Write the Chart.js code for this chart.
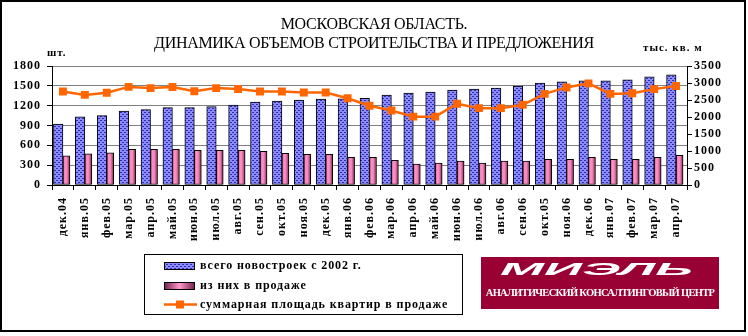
<!DOCTYPE html>
<html lang="ru">
<head>
<meta charset="utf-8">
<title>Московская область</title>
<script src="https://cdn.jsdelivr.net/npm/chart.js@4.4.1/dist/chart.umd.min.js"></script>
<style>
  body { margin: 0; background: #fff; }
  #wrap { position: relative; width: 748px; height: 336px; overflow: hidden;
          font-family: "Liberation Serif", "Times New Roman", serif; color: #000; }
  #frame { position: absolute; left: 0; top: 0; width: 742px; height: 328px; border: 2px solid #000; }
  #canvas { position: absolute; left: 0; top: 0; }
  .title { position: absolute; left: 0; width: 748px; text-align: center;
           font-size: 16px; line-height: 20px; letter-spacing: -0.3px; white-space: nowrap; }
  .unit { position: absolute; font-size: 11px; font-weight: bold; letter-spacing: 1px; white-space: nowrap; }
  #legend { position: absolute; left: 144px; top: 254px; width: 317px; height: 59px; border: 1px solid #000; }
  #legend .item { position: absolute; left: 19px; height: 14px; }
  #legend canvas { position: absolute; left: 0; top: 0; }
  #legend span { position: absolute; left: 36px; top: -1px; font-size: 12px; font-weight: bold;
                 letter-spacing: 0.9px; line-height: 14px; white-space: nowrap; }
  #logo { position: absolute; left: 481px; top: 257px; width: 238px; height: 52px; background: #990033; color: #fff; }
  #mark { position: absolute; left: 19px; top: 4px; font-family: "Liberation Sans", Arial, sans-serif;
          font-size: 17px; font-weight: bold; font-style: italic; line-height: 18px;
          transform-origin: 0 0; white-space: nowrap; }
  #sub { position: absolute; left: 0; width: 238px; top: 29px; text-align: center; font-size: 10.5px;
         font-weight: bold; letter-spacing: -0.7px; line-height: 14px; white-space: nowrap; }
</style>
</head>
<body>
<div id="wrap">
  <canvas id="canvas" width="748" height="336"></canvas>
  <div id="frame"></div>
  <div class="title" style="top:14px">МОСКОВСКАЯ ОБЛАСТЬ.</div>
  <div class="title" style="top:33px">ДИНАМИКА ОБЪЕМОВ СТРОИТЕЛЬСТВА И ПРЕДЛОЖЕНИЯ</div>
  <div class="unit" style="left:47px; top:46px">шт.</div>
  <div class="unit" style="left:643px; top:41px">тыс. кв. м</div>
  <div id="legend">
    <div class="item" style="top:4px"><canvas id="sw1" width="31" height="8" style="top:3px"></canvas><span>всего новостроек с 2002 г.</span></div>
    <div class="item" style="top:24px"><canvas id="sw2" width="31" height="8" style="top:3px"></canvas><span>из них в продаже</span></div>
    <div class="item" style="top:43px"><canvas id="sw3" width="33" height="9" style="top:2px"></canvas><span>суммарная площадь квартир в продаже</span></div>
  </div>
  <div id="logo">
    <div id="mark">МИЭЛЬ</div>
    <div id="sub">АНАЛИТИЧЕСКИЙ КОНСАЛТИНГОВЫЙ ЦЕНТР</div>
  </div>
</div>
<script>
var canvas = document.getElementById('canvas');
var ctx = canvas.getContext('2d');

// Месяцы (подписи оси X)
var months = ['дек.04', 'янв.05', 'фев.05', 'мар.05', 'апр.05', 'май.05', 'июн.05', 'июл.05',
  'авг.05', 'сен.05', 'окт.05', 'ноя.05', 'дек.05', 'янв.06', 'фев.06', 'мар.06', 'апр.06',
  'май.06', 'июн.06', 'июл.06', 'авг.06', 'сен.06', 'окт.05', 'ноя.06', 'дек.06', 'янв.07',
  'фев.07', 'мар.07', 'апр.07'];

// Всего новостроек с 2002 г., шт.
var total = [920, 1030, 1050, 1120, 1140, 1170, 1170, 1185, 1210, 1255, 1270, 1285, 1300, 1305,
  1310, 1360, 1390, 1405, 1435, 1450, 1465, 1495, 1540, 1560, 1575, 1575, 1590, 1635, 1665];

// Из них в продаже, шт.
var onSale = [440, 470, 485, 540, 540, 540, 525, 525, 525, 510, 480, 465, 465, 420, 420, 375,
  315, 330, 360, 330, 360, 360, 390, 390, 420, 390, 390, 420, 450];

// Суммарная площадь квартир в продаже, тыс. кв. м
var area = [2750, 2650, 2715, 2885, 2850, 2880, 2755, 2850, 2825, 2750, 2750, 2720, 2720, 2550,
  2330, 2190, 2010, 2010, 2390, 2260, 2260, 2360, 2680, 2870, 2990, 2680, 2700, 2820, 2910];

// Шкалы
var leftTicks = { min: 0, max: 1800, step: 300 };
var rightTicks = { min: 0, max: 3500, step: 500 };

// Штриховка синих столбцов
function makePattern(target) {
  var c = document.createElement('canvas');
  c.width = 4; c.height = 4;
  var p = c.getContext('2d');
  p.fillStyle = '#8c8cff';
  p.fillRect(0, 0, 4, 4);
  p.fillStyle = '#2e2eb4';
  p.fillRect(0, 0, 2, 1);
  p.fillRect(2, 2, 2, 1);
  return target.createPattern(c, 'repeat');
}
var bluePattern = makePattern(ctx);

// Розовые столбцы с объемной заливкой
function pinkFill(context) {
  var chart = context.chart;
  var x = chart.scales.x;
  if (context.type !== 'data' || !x) {
    return '#ff99cc';
  }
  var c = x.getPixelForValue(context.dataIndex);
  if (!isFinite(c)) {
    return '#ff99cc';
  }
  var g = chart.ctx.createLinearGradient(c, 0, c + 7, 0);
  g.addColorStop(0, '#c8609a');
  g.addColorStop(0.3, '#ff8fc6');
  g.addColorStop(0.55, '#f587bb');
  g.addColorStop(1, '#7a2850');
  return g;
}

var tickFont = { family: '"Liberation Serif", "Times New Roman", serif', size: 12, weight: 'bold' };

// Числа на осях без разделителя тысяч
function plainNumber(value) {
  return String(value);
}

// Разрядка букв в подписях осей
var spacing = {
  id: 'spacing',
  beforeDraw: function (chart) {
    chart.ctx.letterSpacing = '1px';
  }
};

var chart = new Chart(ctx, {
  type: 'bar',
  data: {
    labels: months,
    datasets: [{
      type: 'line',
      label: 'суммарная площадь квартир в продаже',
      data: area,
      yAxisID: 'y1',
      borderColor: '#ff6600',
      backgroundColor: '#ff6600',
      borderWidth: 2.5,
      pointStyle: 'rect',
      pointRadius: 5.6,
      pointBorderWidth: 0,
      tension: 0,
      order: 0
    }, {
      label: 'всего новостроек с 2002 г.',
      data: total,
      yAxisID: 'y',
      backgroundColor: bluePattern,
      borderColor: '#000',
      borderWidth: 1,
      borderSkipped: false,
      barThickness: 9.5,
      order: 1
    }, {
      label: 'из них в продаже',
      data: onSale,
      yAxisID: 'y',
      backgroundColor: pinkFill,
      borderColor: '#000',
      borderWidth: 1,
      borderSkipped: false,
      barThickness: 7,
      order: 2
    }]
  },
  options: {
    responsive: false,
    animation: false,
    devicePixelRatio: 1,
    layout: { padding: { top: 66, bottom: 91, left: 0, right: 0 } },
    plugins: {
      legend: { display: false },
      tooltip: { enabled: false }
    },
    scales: {
      x: {
        offset: true,
        grid: { display: true, drawOnChartArea: false, offset: true, tickLength: 5, color: '#000' },
        border: { color: '#000', width: 1 },
        ticks: { color: '#000', font: tickFont, minRotation: 90, maxRotation: 90, autoSkip: false, padding: 7 },
        afterFit: function (s) { s.height = 60; }
      },
      y: {
        position: 'left',
        min: leftTicks.min,
        max: leftTicks.max,
        ticks: { stepSize: leftTicks.step, color: '#000', font: tickFont, padding: 6, autoSkip: false, callback: plainNumber },
        grid: { color: '#808080', tickColor: '#000', tickLength: 5 },
        border: { color: '#000', width: 1 },
        afterFit: function (s) { s.width = 52; }
      },
      y1: {
        position: 'right',
        min: rightTicks.min,
        max: rightTicks.max,
        ticks: { stepSize: rightTicks.step, color: '#000', font: tickFont, padding: 2, autoSkip: false, callback: plainNumber },
        grid: { drawOnChartArea: false, tickColor: '#000', tickLength: 5 },
        border: { color: '#000', width: 1 },
        afterFit: function (s) { s.width = 61; }
      }
    }
  },
  plugins: [spacing]
});

// Значки легенды
(function () {
  var s1 = document.getElementById('sw1').getContext('2d');
  s1.fillStyle = makePattern(s1);
  s1.fillRect(0, 0, 31, 8);
  s1.strokeStyle = '#000';
  s1.strokeRect(0.5, 0.5, 30, 7);

  var s2 = document.getElementById('sw2').getContext('2d');
  var g = s2.createLinearGradient(0, 0, 31, 0);
  g.addColorStop(0, '#6e1f48');
  g.addColorStop(0.5, '#ff99cc');
  g.addColorStop(1, '#6e1f48');
  s2.fillStyle = g;
  s2.fillRect(0, 0, 31, 8);
  s2.strokeStyle = '#000';
  s2.strokeRect(0.5, 0.5, 30, 7);

  var s3 = document.getElementById('sw3').getContext('2d');
  s3.strokeStyle = '#ff6600';
  s3.lineWidth = 2.5;
  s3.beginPath();
  s3.moveTo(0, 4.5);
  s3.lineTo(33, 4.5);
  s3.stroke();
  s3.fillStyle = '#ff6600';
  s3.fillRect(12, 0.5, 8, 8);
})();

// Растягиваем логотип по ширине
var mark = document.getElementById('mark');
mark.style.transform = 'scaleX(' + (193 / mark.offsetWidth).toFixed(3) + ')';
</script>
</body>
</html>
